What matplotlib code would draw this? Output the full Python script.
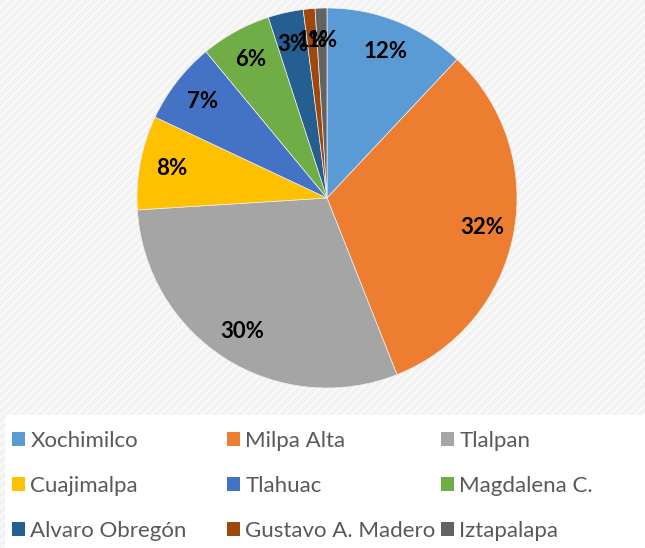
import matplotlib
matplotlib.use("Agg")
import numpy as np
import matplotlib.pyplot as plt
from matplotlib.patches import Rectangle, Patch

categories = ["Xochimilco", "Milpa Alta", "Tlalpan", "Cuajimalpa", "Tlahuac",
              "Magdalena C.", "Alvaro Obregón", "Gustavo A. Madero", "Iztapalapa"]
values = [12, 32, 30, 8, 7, 6, 3, 1, 1]
colors = ["#5B9BD5", "#ED7D31", "#A5A5A5", "#FFC000", "#4472C4",
          "#70AD47", "#255E91", "#9E480E", "#636363"]

plt.rcParams['font.family'] = ['Lato', 'DejaVu Sans']
plt.rcParams['hatch.linewidth'] = 1.5
plt.rcParams['hatch.color'] = '#fdfdfd'

W, H = 645, 548
fig = plt.figure(figsize=(W/100, H/100), dpi=100)
fig.patch.set_facecolor('#f3f3f3')
bg = Rectangle((0, 0), 1, 1, transform=fig.transFigure, facecolor='#f2f2f2',
               edgecolor='#fbfbfb', hatch='////', lw=0, zorder=-10)
fig.patches.append(bg)
leg_bg = Rectangle((5/W, 0), 1 - 5/W, (548-415)/H, transform=fig.transFigure,
                   facecolor='white', edgecolor='none', zorder=-5)
fig.patches.append(leg_bg)

cx, cy, R = 327, 198, 190
ax = fig.add_axes([(cx-R)/W, (H-cy-R)/H, 2*R/W, 2*R/H])
ax.set_facecolor('none')
wedges, texts = ax.pie(values, colors=colors, startangle=90, counterclock=False,
                       radius=1, wedgeprops=dict(linewidth=0.5, edgecolor='#eeeeee'))
for w, v in zip(wedges, values):
    ang = np.deg2rad((w.theta1 + w.theta2) / 2)
    r = 0.83
    ax.text(r*np.cos(ang), r*np.sin(ang), f"{v}%", ha='center', va='center',
            fontsize=16, fontweight='bold', color='black')
ax.set_xlim(-1, 1)
ax.set_ylim(-1, 1)
ax.set_aspect('equal')
ax.axis('off')

handles = [Patch(facecolor=c, edgecolor='none') for c in colors]
col_x = [12, 227, 441]
for col in range(3):
    idx = [col, col + 3, col + 6]
    fig.legend([handles[i] for i in idx], [categories[i] for i in idx],
               ncol=1, loc='upper left', bbox_to_anchor=(col_x[col]/W, 1 - 431/H),
               frameon=False, fontsize=16, labelcolor='#595959',
               handlelength=0.58, handleheight=0.58, handletextpad=0.25,
               labelspacing=1.12, borderaxespad=0, borderpad=0)
fig.savefig("out.png", dpi=100, facecolor=fig.get_facecolor())
